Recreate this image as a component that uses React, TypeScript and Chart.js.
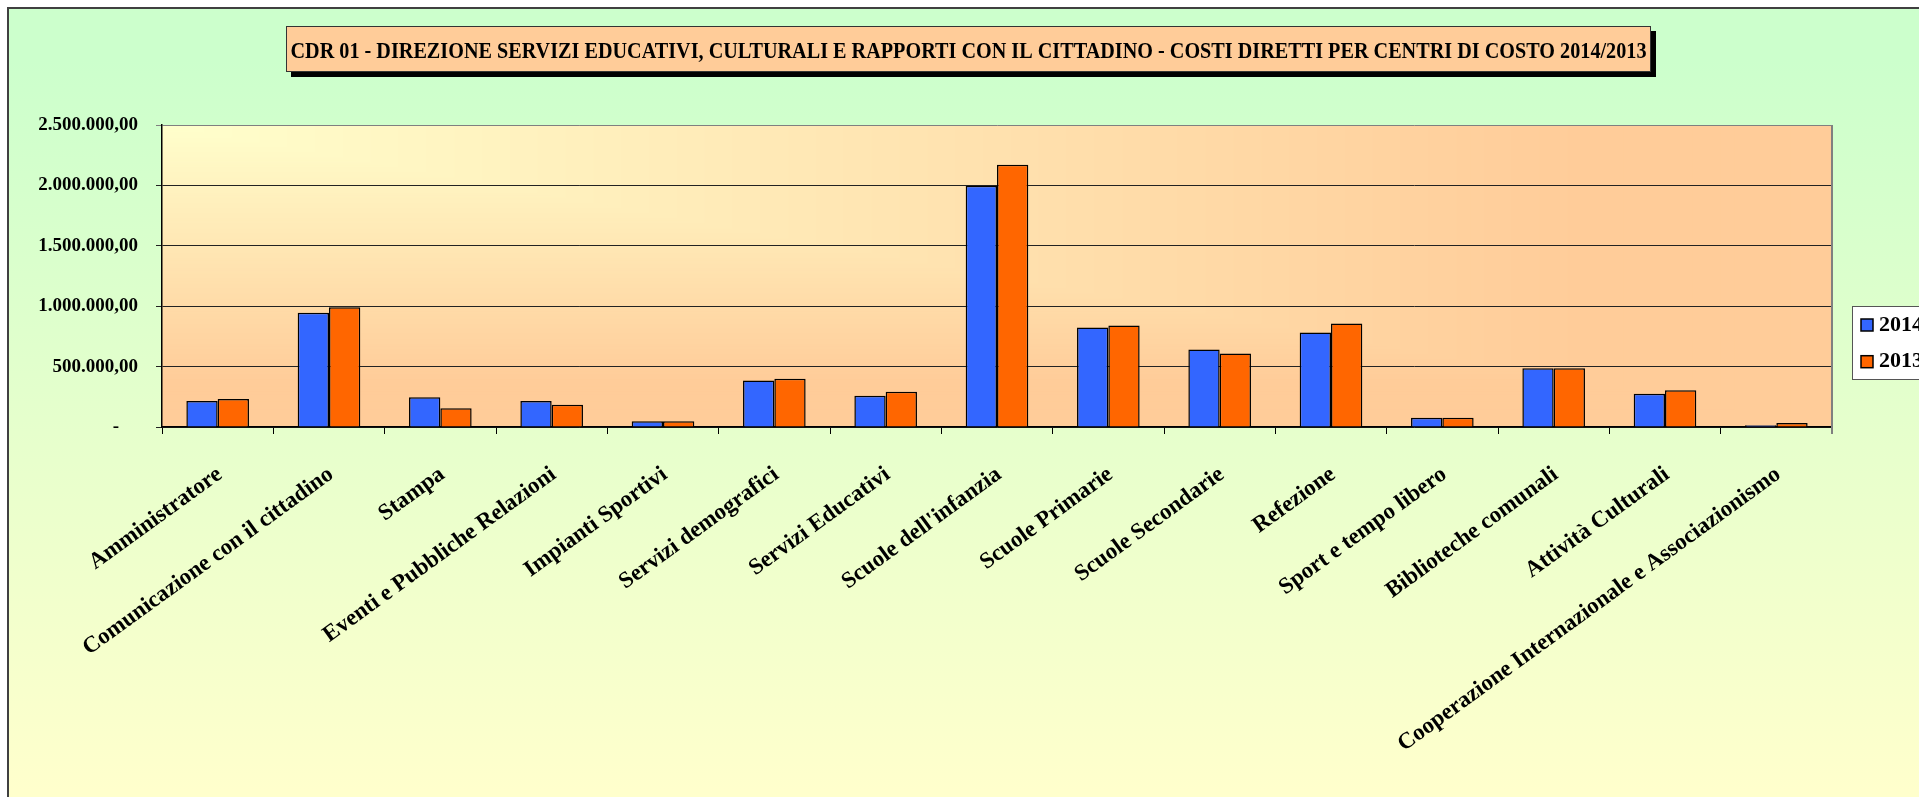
import React, { useEffect, useRef } from 'react';
import { Chart, registerables } from 'chart.js';

Chart.register(...registerables);

const categories = [
  'Amministratore',
  'Comunicazione con il cittadino',
  'Stampa',
  'Eventi e Pubbliche Relazioni',
  'Impianti Sportivi',
  'Servizi demografici',
  'Servizi Educativi',
  "Scuole dell'infanzia",
  'Scuole Primarie',
  'Scuole Secondarie',
  'Refezione',
  'Sport e tempo libero',
  'Biblioteche comunali',
  'Attività Culturali',
  'Cooperazione Internazionale e Associazionismo',
];

const values2014 = [215000, 946000, 246000, 215000, 47000, 384000, 259000, 1998000, 823000, 642000, 782000, 77000, 486000, 275000, 15000];
const values2013 = [232000, 991000, 155000, 185000, 47000, 400000, 292000, 2170000, 841000, 609000, 857000, 77000, 486000, 305000, 33000];

const seriesLabels = ['2014', '2013'];
const seriesColors = ['#3366FF', '#FF6600'];

const yTickLabels = ['-', '500.000,00', '1.000.000,00', '1.500.000,00', '2.000.000,00', '2.500.000,00'];

const titleText =
  'CDR 01 - DIREZIONE SERVIZI EDUCATIVI, CULTURALI E RAPPORTI CON IL CITTADINO - COSTI DIRETTI PER CENTRI DI COSTO 2014/2013';

const FONT = '"Liberation Serif", "Times New Roman", serif';

const backgroundPlugin = {
  id: 'bgPlugin',
  beforeDraw(chart: any) {
    const ctx = chart.ctx as CanvasRenderingContext2D;
    const width = chart.width;
    const height = chart.height;
    ctx.save();
    ctx.fillStyle = '#ffffff';
    ctx.fillRect(0, 0, width, height);
    const g = ctx.createLinearGradient(0, 60, 0, 790);
    g.addColorStop(0, '#CCFFCC');
    g.addColorStop(1, '#FFFFCC');
    ctx.fillStyle = g;
    ctx.fillRect(8, 8, width - 8, height - 8);
    ctx.strokeStyle = '#404040';
    ctx.lineWidth = 2;
    ctx.beginPath();
    ctx.moveTo(8, height);
    ctx.lineTo(8, 8);
    ctx.lineTo(width, 8);
    ctx.stroke();

    // title box with shadow
    const bx = 286, by = 26, bw = 1365, bh = 46;
    ctx.fillStyle = '#000';
    ctx.fillRect(bx + 5, by + 5, bw, bh);
    ctx.fillStyle = '#FFCC99';
    ctx.fillRect(bx, by, bw, bh);
    ctx.strokeStyle = '#333';
    ctx.lineWidth = 1;
    ctx.strokeRect(bx + 0.5, by + 0.5, bw - 1, bh - 1);
    ctx.font = 'bold 23px ' + FONT;
    const tw = ctx.measureText(titleText).width;
    const sx = 1356 / tw;
    ctx.translate(bx + bw / 2, 57.5);
    ctx.scale(sx, 1);
    ctx.fillStyle = '#000';
    ctx.textAlign = 'center';
    ctx.textBaseline = 'alphabetic';
    ctx.fillText(titleText, 0, 0);
    ctx.setTransform(1, 0, 0, 1, 0, 0);

    // plot area gradient from top-left corner
    const a = chart.chartArea;
    const W = a.right - a.left;
    const H = a.bottom - a.top;
    const N = 120;
    for (let i = N; i >= 1; i--) {
      const t = i / N;
      const k = Math.min(1, t / 0.85);
      const gg = Math.round(255 + (204 - 255) * k);
      const b = Math.round(204 + (153 - 204) * k);
      ctx.fillStyle = `rgb(255,${gg},${b})`;
      ctx.fillRect(a.left, a.top, W * t, H * t);
    }
    ctx.restore();
  },
  afterDraw(chart: any) {
    const ctx = chart.ctx as CanvasRenderingContext2D;
    const a = chart.chartArea;
    ctx.save();
    ctx.strokeStyle = '#808080';
    ctx.lineWidth = 2;
    ctx.beginPath();
    ctx.moveTo(a.right, a.top);
    ctx.lineTo(a.right, a.bottom + 7);
    ctx.stroke();

    // legend
    const lx = 1852, ly = 306;
    ctx.fillStyle = '#ffffff';
    ctx.fillRect(lx, ly, 100, 73);
    ctx.strokeStyle = '#555';
    ctx.lineWidth = 1;
    ctx.strokeRect(lx + 0.5, ly + 0.5, 100, 73);
    chart.data.datasets.forEach((ds: any, i: number) => {
      const y = 319 + i * 36.7;
      ctx.fillStyle = ds.backgroundColor;
      ctx.fillRect(1861, y, 12, 12);
      ctx.strokeStyle = '#000';
      ctx.lineWidth = 1.5;
      ctx.strokeRect(1861, y, 12, 12);
      ctx.fillStyle = '#000';
      ctx.font = 'bold 22px ' + FONT;
      ctx.textAlign = 'left';
      ctx.textBaseline = 'middle';
      ctx.fillText(ds.label, 1879, y + 6);
    });
    ctx.restore();
  },
};

export default function App() {
  const ref = useRef<HTMLCanvasElement>(null);

  useEffect(() => {
    const canvas = ref.current;
    if (!canvas) return;
    const chart = new Chart(canvas, {
      type: 'bar',
      data: {
        labels: categories,
        datasets: [
          {
            label: seriesLabels[0],
            data: values2014,
            backgroundColor: seriesColors[0],
            borderColor: '#000',
            borderWidth: 1.5,
            categoryPercentage: 0.5625,
            barPercentage: 1,
          },
          {
            label: seriesLabels[1],
            data: values2013,
            backgroundColor: seriesColors[1],
            borderColor: '#000',
            borderWidth: 1.5,
            categoryPercentage: 0.5625,
            barPercentage: 1,
          },
        ],
      },
      options: {
        responsive: false,
        animation: false,
        devicePixelRatio: 1,
        layout: { padding: { left: 0, right: 87, top: 125, bottom: 0 } },
        plugins: {
          legend: { display: false },
          title: { display: false },
          tooltip: { enabled: false },
        },
        scales: {
          x: {
            grid: {
              display: true,
              drawOnChartArea: false,
              drawTicks: true,
              tickLength: 7,
              color: '#000',
              lineWidth: 1,
              offset: true,
            },
            border: { display: true, color: '#000', width: 1.5 },
            ticks: {
              autoSkip: false,
              minRotation: 36,
              maxRotation: 36,
              padding: 27,
              labelOffset: 2,
              color: '#000',
              font: { family: FONT, size: 23, weight: 'bold' },
            },
            afterFit: (s: any) => {
              s.height = 370;
            },
          },
          y: {
            min: 0,
            max: 2500000,
            ticks: {
              stepSize: 500000,
              padding: 18,
              color: '#000',
              font: { family: FONT, size: 19, weight: 'bold' },
              callback: (_v: any, i: number) => (i === 0 ? yTickLabels[i] + '\u2007\u2007' : yTickLabels[i]),
            },
            grid: {
              color: (c: any) => (c.tick && c.tick.value === 2500000 ? '#808080' : '#222'),
              lineWidth: 1,
              tickLength: 6,
              drawTicks: true,
            },
            border: { display: true, color: '#000', width: 1.5 },
            afterFit: (s: any) => {
              s.width = 162;
            },
          },
        },
      },
      plugins: [backgroundPlugin],
    } as any);
    return () => chart.destroy();
  }, []);

  return (
    <div
      style={{
        position: 'fixed',
        left: 0,
        top: 0,
        width: 1919,
        height: 797,
        overflow: 'hidden',
        background: '#fff',
      }}
    >
      <canvas ref={ref} width={1919} height={797} style={{ display: 'block', width: 1919, height: 797 }} />
    </div>
  );
}
